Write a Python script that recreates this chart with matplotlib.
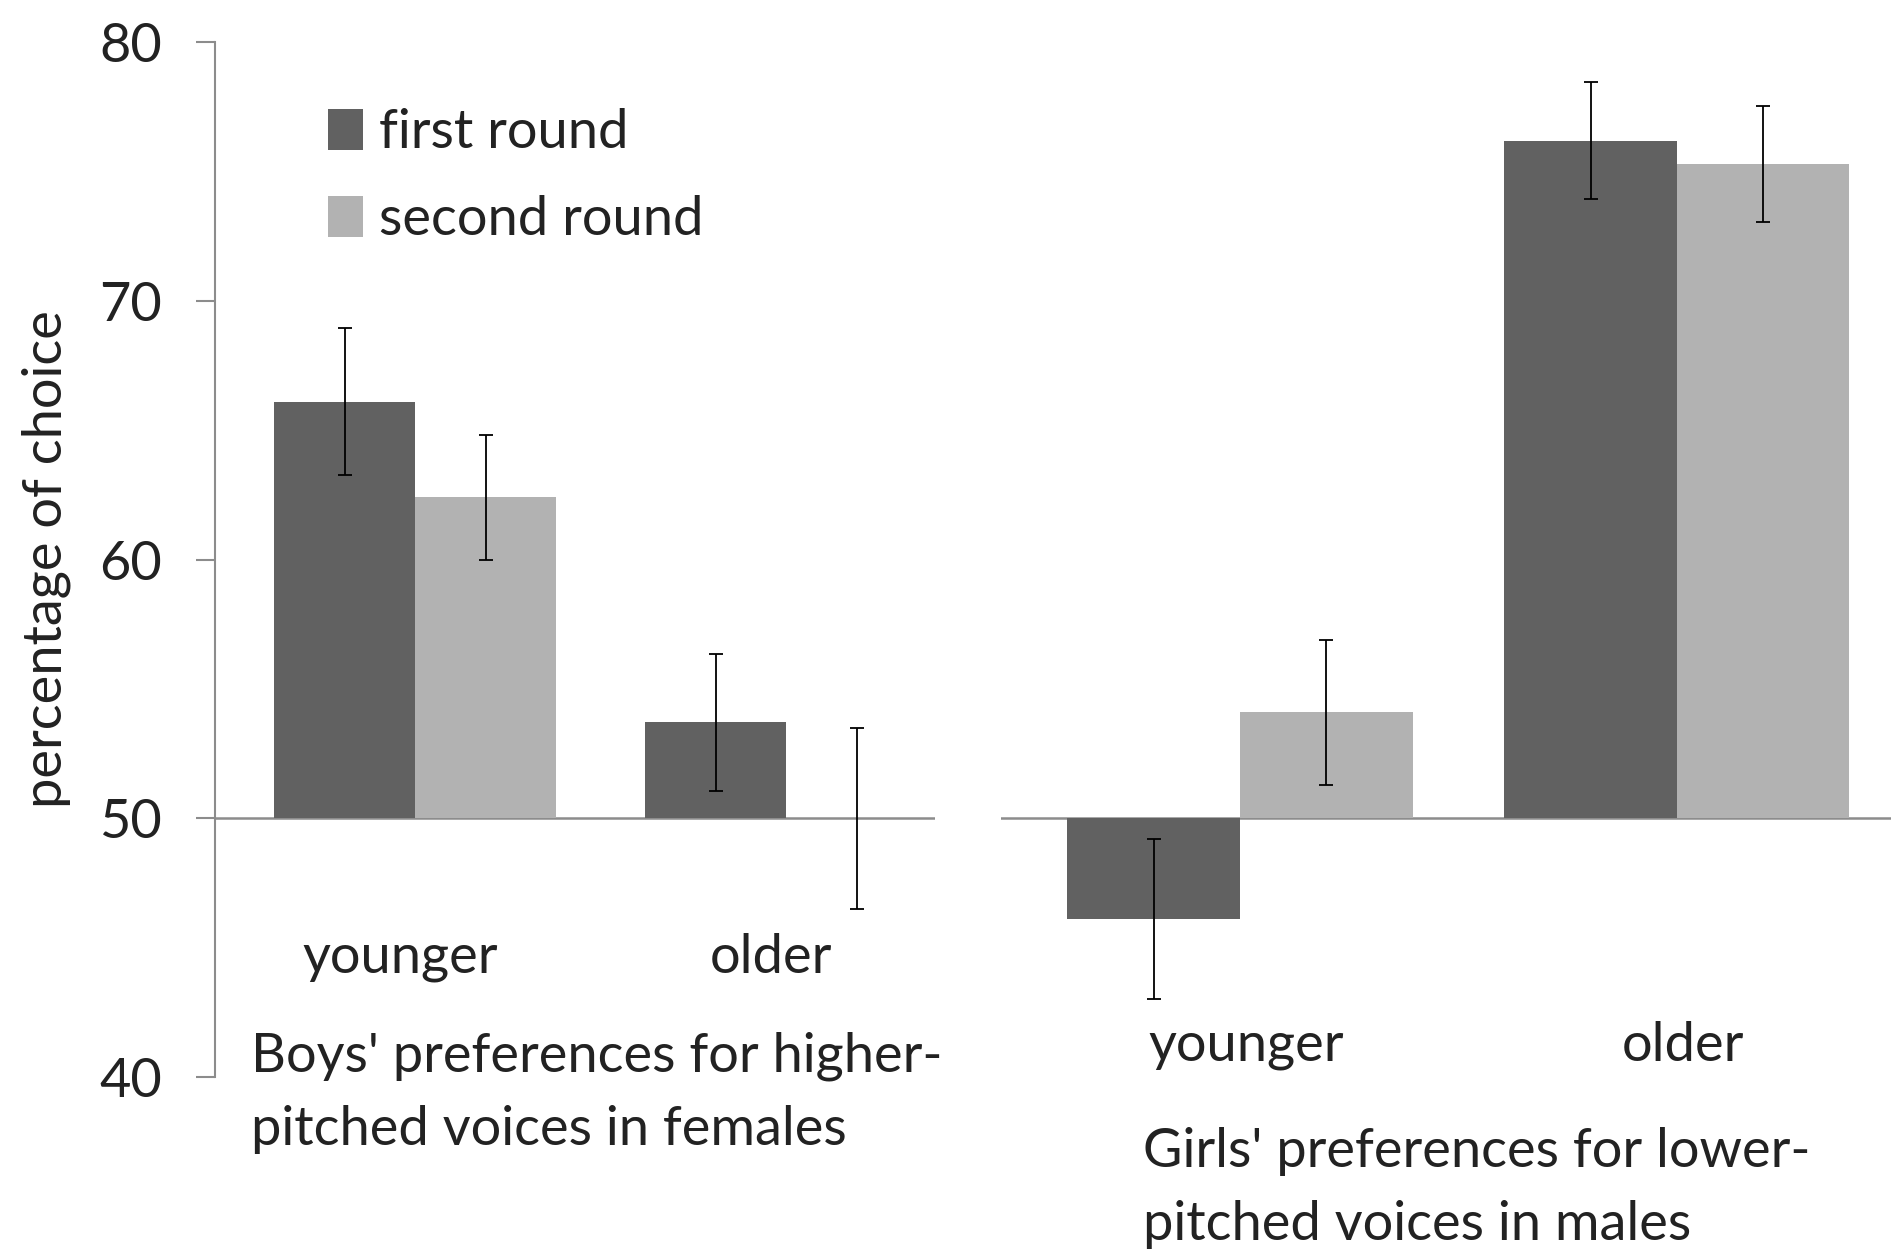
import numpy as np
import matplotlib.pyplot as plt

groups = ["younger", "older"]
series = ["first round", "second round"]

boys_first = [66.1, 53.7]
boys_first_err = [2.85, 2.65]
boys_second = [62.4, 50.0]
boys_second_err = [2.4, 3.5]

girls_first = [46.1, 76.2]
girls_first_err = [3.1, 2.25]
girls_second = [54.1, 75.3]
girls_second_err = [2.8, 2.25]

boys_caption = "Boys' preferences for higher-\npitched voices in females"
girls_caption = "Girls' preferences for lower-\npitched voices in males"

dark = '#616161'
light = '#b2b2b2'
axis_col = '#8c8c8c'
text_col = '#222222'
fs = 39

plt.rcParams['font.family'] = ['Lato', 'DejaVu Sans']


def draw_group(ax, first, first_err, second, second_err, width):
    x = np.arange(len(groups))
    base = 50
    h1 = [v - base for v in first]
    h2 = [v - base for v in second]
    ax.bar(x - width / 2, h1, width, bottom=base, color=dark, label=series[0])
    ax.bar(x + width / 2, h2, width, bottom=base, color=light, label=series[1])
    ax.errorbar(x - width / 2, first, yerr=first_err, fmt='none', ecolor='black',
                elinewidth=1.3, capsize=5, capthick=1.3)
    ax.errorbar(x + width / 2, second, yerr=second_err, fmt='none', ecolor='black',
                elinewidth=1.3, capsize=5, capthick=1.3)
    ax.axhline(base, color=axis_col, lw=1.8, zorder=0)
    ax.set_ylim(40, 80)
    for s in ['top', 'right', 'bottom']:
        ax.spines[s].set_visible(False)
    ax.set_xticks([])


fig = plt.figure(figsize=(18.91, 12.54), dpi=100)
ax1 = fig.add_axes([0.1135, 0.1413, 0.3808, 0.825])
ax2 = fig.add_axes([0.5293, 0.1413, 0.4707, 0.825])

draw_group(ax1, boys_first, boys_first_err, boys_second, boys_second_err, 0.38)
ax1.set_xlim(-0.54, 1.40)
ax1.spines['left'].set_color(axis_col)
ax1.spines['left'].set_linewidth(1.5)
ax1.set_yticks([40, 50, 60, 70, 80])
ax1.tick_params(axis='y', direction='out', length=14, width=1.5, color=axis_col,
                pad=24, labelsize=fs, labelcolor=text_col)
ax1.set_ylabel('percentage of choice', fontsize=fs, color=text_col, labelpad=20)
for i, g in enumerate(groups):
    ax1.text(i - 0.04, 44.6, g, ha='center', va='center', fontsize=fs, color=text_col)
ax1.text(-0.443, 39.4, boys_caption, ha='left', va='center', fontsize=fs,
         color=text_col, linespacing=1.6, clip_on=False)
ax1.legend(loc='upper left', bbox_to_anchor=(0.157, 0.936), frameon=False,
           fontsize=fs, handlelength=0.65, handleheight=0.8, handletextpad=0.3,
           labelspacing=0.7, borderpad=0, borderaxespad=0, labelcolor=text_col)

draw_group(ax2, girls_first, girls_first_err, girls_second, girls_second_err, 0.395)
ax2.set_xlim(-0.547, 1.49)
ax2.spines['left'].set_visible(False)
ax2.set_yticks([])
for i, g in enumerate(groups):
    ax2.text(i + 0.014, 41.2, g, ha='center', va='center', fontsize=fs, color=text_col)
ax2.text(-0.221, 35.7, girls_caption, ha='left', va='center', fontsize=fs,
         color=text_col, linespacing=1.6, clip_on=False)

fig.savefig('out.png', dpi=100)
